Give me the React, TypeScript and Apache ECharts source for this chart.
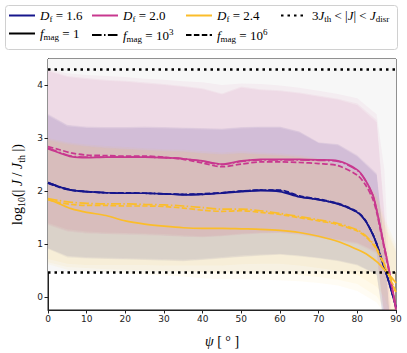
import React, { useEffect, useRef } from 'react';
import * as echarts from 'echarts';

// ---- data ----
const PSI = [0, 3, 6, 10, 15, 20, 25, 30, 35, 40, 45, 50, 55, 60, 65, 70, 75, 80, 82, 84, 85, 86, 87, 88, 89, 90];

const NAVY_F1 = [2.16, 2.08, 2.02, 1.99, 1.97, 1.96, 1.96, 1.95, 1.93, 1.94, 1.96, 1.99, 2.01, 1.99, 1.89, 1.84, 1.76, 1.6, 1.45, 1.18, 1.0, 0.77, 0.55, 0.32, 0.07, -0.2];
const NAVY_F3 = [2.16, 2.08, 2.02, 1.99, 1.97, 1.96, 1.96, 1.95, 1.94, 1.94, 1.97, 2.0, 2.02, 2.01, 1.9, 1.84, 1.76, 1.6, 1.45, 1.19, 1.01, 0.78, 0.56, 0.33, 0.08, -0.19];
const NAVY_F6 = [2.15, 2.07, 2.02, 1.99, 1.97, 1.97, 1.96, 1.95, 1.94, 1.95, 1.97, 2.0, 2.02, 2.02, 1.91, 1.85, 1.77, 1.61, 1.46, 1.19, 1.01, 0.78, 0.56, 0.33, 0.08, -0.19];

const MAG_F1 = [2.8, 2.72, 2.65, 2.63, 2.64, 2.64, 2.64, 2.63, 2.61, 2.57, 2.51, 2.57, 2.6, 2.6, 2.6, 2.59, 2.57, 2.4, 2.22, 1.93, 1.65, 1.3, 0.95, 0.6, 0.2, -0.2];
const MAG_F3 = [2.81, 2.73, 2.66, 2.64, 2.64, 2.64, 2.64, 2.63, 2.61, 2.56, 2.5, 2.56, 2.59, 2.59, 2.59, 2.58, 2.56, 2.39, 2.21, 1.92, 1.64, 1.29, 0.94, 0.59, 0.19, -0.21];
const MAG_F6 = [2.84, 2.78, 2.72, 2.68, 2.67, 2.66, 2.66, 2.64, 2.6, 2.53, 2.46, 2.51, 2.55, 2.55, 2.54, 2.52, 2.48, 2.3, 2.13, 1.85, 1.6, 1.25, 0.9, 0.55, 0.15, -0.25];

const GOLD_F1 = [1.85, 1.76, 1.67, 1.6, 1.54, 1.44, 1.38, 1.34, 1.31, 1.3, 1.3, 1.29, 1.28, 1.26, 1.22, 1.15, 1.05, 0.9, 0.83, 0.73, 0.67, 0.6, 0.52, 0.44, 0.36, 0.27];
const GOLD_F3 = [1.86, 1.82, 1.79, 1.77, 1.76, 1.76, 1.75, 1.74, 1.72, 1.69, 1.66, 1.66, 1.63, 1.58, 1.52, 1.46, 1.39, 1.27, 1.17, 1.02, 0.92, 0.78, 0.62, 0.45, 0.28, 0.1];
const GOLD_F6 = [1.84, 1.78, 1.75, 1.73, 1.73, 1.72, 1.72, 1.71, 1.68, 1.64, 1.62, 1.63, 1.6, 1.56, 1.5, 1.44, 1.37, 1.25, 1.15, 1.0, 0.9, 0.75, 0.6, 0.43, 0.26, 0.08];

const BAND_PSI = [0, 5, 10, 15, 20, 25, 30, 35, 40, 45, 50, 55, 60, 65, 70, 75, 80, 85, 87, 90];

const NAVY_HI_1 = [3.46, 3.25, 3.22, 3.21, 3.21, 3.22, 3.21, 3.2, 3.19, 3.18, 3.21, 3.22, 3.22, 3.13, 2.92, 2.89, 2.68, 2.34, 1.0, -2.0];
const NAVY_LO_1 = [0.91, 0.75, 0.73, 0.72, 0.71, 0.7, 0.69, 0.68, 0.7, 0.73, 0.76, 0.78, 0.8, 0.77, 0.73, 0.68, 0.6, 0.42, -0.6, -2.0];
const NAVY_HI_2 = [3.42, 3.22, 3.19, 3.18, 3.18, 3.19, 3.18, 3.17, 3.16, 3.15, 3.18, 3.19, 3.19, 3.1, 2.9, 2.86, 2.65, 2.3, 0.9, -2.0];
const NAVY_LO_2 = [0.93, 0.78, 0.76, 0.75, 0.74, 0.73, 0.72, 0.71, 0.73, 0.76, 0.79, 0.81, 0.82, 0.79, 0.75, 0.7, 0.62, 0.44, -0.5, -2.0];
const NAVY_HI_3 = [3.44, 3.24, 3.2, 3.2, 3.2, 3.2, 3.2, 3.19, 3.18, 3.17, 3.2, 3.21, 3.21, 3.12, 2.91, 2.88, 2.66, 2.32, 0.95, -2.0];
const NAVY_LO_3 = [0.92, 0.77, 0.74, 0.73, 0.72, 0.71, 0.7, 0.69, 0.71, 0.74, 0.77, 0.79, 0.81, 0.78, 0.74, 0.69, 0.61, 0.43, -0.55, -2.0];

const MAG_HI_1 = [4.28, 4.17, 4.13, 4.1, 4.08, 4.05, 4.02, 3.98, 3.94, 3.84, 3.97, 3.92, 3.9, 3.86, 3.8, 3.74, 3.65, 3.34, 1.6, -2.0];
const MAG_LO_1 = [1.38, 1.26, 1.22, 1.2, 1.2, 1.19, 1.17, 1.15, 1.14, 1.16, 1.19, 1.21, 1.22, 1.19, 1.13, 1.08, 1.02, 0.85, -0.4, -2.0];
const MAG_HI_2 = [4.3, 4.22, 4.19, 4.17, 4.15, 4.12, 4.1, 4.07, 4.05, 4.0, 4.03, 4.02, 3.99, 3.95, 3.89, 3.83, 3.75, 3.45, 2.4, -2.0];
const MAG_LO_2 = [1.36, 1.24, 1.2, 1.19, 1.18, 1.17, 1.16, 1.14, 1.13, 1.15, 1.18, 1.2, 1.21, 1.18, 1.12, 1.06, 1.0, 0.82, -0.3, -2.0];
const MAG_HI_3 = [4.26, 4.15, 4.11, 4.08, 4.06, 4.03, 4.0, 3.96, 3.92, 3.82, 3.95, 3.9, 3.88, 3.84, 3.78, 3.72, 3.62, 3.3, 1.5, -2.0];
const MAG_LO_3 = [1.4, 1.28, 1.24, 1.22, 1.21, 1.2, 1.19, 1.17, 1.15, 1.17, 1.2, 1.22, 1.23, 1.2, 1.14, 1.09, 1.03, 0.86, -0.4, -2.0];

const GOLD_HI_1 = [2.98, 2.9, 2.85, 2.82, 2.8, 2.78, 2.76, 2.75, 2.72, 2.7, 2.72, 2.7, 2.68, 2.65, 2.6, 2.5, 2.35, 1.9, 1.4, 0.9];
const GOLD_LO_1 = [0.72, 0.63, 0.61, 0.61, 0.61, 0.61, 0.6, 0.6, 0.6, 0.6, 0.62, 0.63, 0.63, 0.6, 0.55, 0.5, 0.42, 0.2, 0.0, -0.6];
const GOLD_HI_2 = [3.0, 2.92, 2.88, 2.85, 2.83, 2.81, 2.79, 2.78, 2.75, 2.73, 2.75, 2.73, 2.71, 2.68, 2.62, 2.52, 2.38, 1.95, 1.5, 1.0];
const GOLD_LO_2 = [0.62, 0.52, 0.49, 0.47, 0.45, 0.43, 0.41, 0.39, 0.36, 0.34, 0.34, 0.33, 0.32, 0.3, 0.27, 0.22, 0.12, -0.1, -0.3, -0.8];
const GOLD_HI_3 = [2.96, 2.88, 2.84, 2.81, 2.79, 2.77, 2.75, 2.74, 2.71, 2.69, 2.71, 2.69, 2.67, 2.64, 2.58, 2.48, 2.33, 1.88, 1.35, 0.85];
const GOLD_LO_3 = [0.66, 0.57, 0.55, 0.53, 0.52, 0.51, 0.5, 0.49, 0.47, 0.45, 0.45, 0.45, 0.44, 0.42, 0.38, 0.33, 0.25, 0.02, -0.2, -0.7];

const THRESHOLDS = [0.477, 4.29]; // log10(3), log10(J_disr / J_th)
const Y_TICKS = [0, 1, 2, 3, 4];
const DF_LABELS = ['1.6', '2.0', '2.4'];
const FMAG_LABELS = ['1', '10^3', '10^6'];

// ---- styles ----
const COLORS = ['#16168c', '#c8388f', '#fbbd2a'];
const BAND_OPACITY = 0.05;
const SERIF = 'Liberation Serif';
const SANS = 'DejaVu Sans';
const DASHED = [5.5, 2.4];
const DASHDOT = [9.6, 2.4, 1.5, 2.4];
const DOTTED = [2.5, 4];
const LINE_TYPES: any[] = ['solid', DASHDOT, DASHED];

const makeRich = (fs: number, sfs: number, lh: number) => ({
  n: { fontFamily: SERIF, fontSize: fs, lineHeight: lh, verticalAlign: 'middle', color: '#000' },
  it: { fontFamily: SERIF, fontStyle: 'italic', fontSize: fs, lineHeight: lh, verticalAlign: 'middle', color: '#000' },
  sub: { fontFamily: SERIF, fontSize: sfs, lineHeight: sfs, verticalAlign: 'bottom', color: '#000' },
  sup: { fontFamily: SERIF, fontSize: sfs, lineHeight: sfs, verticalAlign: 'top', color: '#000' },
});
const rich = makeRich(13, 9, 16);
const richAxis = makeRich(14, 10, 18);

function fmagLabel(v: string) {
  const parts = v.split('^');
  return '{it|f}{sub|mag}{n| = ' + parts[0] + '}' + (parts[1] ? '{sup|' + parts[1] + '}' : '');
}

export default function App() {
  const ref = useRef<HTMLDivElement>(null);
  useEffect(() => {
    if (!ref.current) return;
    const chart = echarts.init(ref.current, null, { renderer: 'svg' });

    const lineSets = [
      [NAVY_F1, NAVY_F3, NAVY_F6],
      [MAG_F1, MAG_F3, MAG_F6],
      [GOLD_F1, GOLD_F3, GOLD_F6],
    ];
    const bandSets = [
      [[NAVY_LO_1, NAVY_HI_1], [NAVY_LO_2, NAVY_HI_2], [NAVY_LO_3, NAVY_HI_3]],
      [[MAG_LO_1, MAG_HI_1], [MAG_LO_2, MAG_HI_2], [MAG_LO_3, MAG_HI_3]],
      [[GOLD_LO_1, GOLD_HI_1], [GOLD_LO_2, GOLD_HI_2], [GOLD_LO_3, GOLD_HI_3]],
    ];
    const dfNames = DF_LABELS.map((d) => 'D_f = ' + d);
    const fNames = FMAG_LABELS.map((f) => 'f_mag = ' + f);
    const labelMap: Record<string, string> = {};
    DF_LABELS.forEach((d, i) => { labelMap[dfNames[i]] = '{it|D}{sub|f}{n| = ' + d + '}'; });
    FMAG_LABELS.forEach((f, i) => { labelMap[fNames[i]] = fmagLabel(f); });
    labelMap['thr'] = '{n|3}{it|J}{sub|th}{n| < |}{it|J}{n|| < }{it|J}{sub|disr}';

    const series: any[] = [];
    series.push({
      type: 'line', name: 'bg', data: [], z: 0, silent: true,
      markArea: { silent: true, itemStyle: { color: '#f7f7f7', opacity: 1 }, data: [[{ yAxis: THRESHOLDS[0] }, { yAxis: 4.49 }]] },
    });
    bandSets.forEach((set, ci) => {
      set.forEach(([lo, hi]) => {
        series.push({
          type: 'custom', coordinateSystem: 'cartesian2d', silent: true, z: 2, clip: true,
          data: BAND_PSI.map((x, i) => [x, lo[i], hi[i]]),
          encode: { x: 0, y: [1, 2] },
          renderItem: (params: any, api: any) => {
            if (params.dataIndex !== 0) return null;
            const pts: number[][] = [];
            for (let i = 0; i < BAND_PSI.length; i++) pts.push(api.coord([BAND_PSI[i], hi[i]]));
            for (let i = BAND_PSI.length - 1; i >= 0; i--) pts.push(api.coord([BAND_PSI[i], lo[i]]));
            const cs = params.coordSys;
            return {
              type: 'polygon',
              shape: { points: pts },
              style: { fill: COLORS[ci], opacity: BAND_OPACITY },
              clipPath: { type: 'rect', shape: { x: cs.x, y: cs.y, width: cs.width, height: cs.height } },
            };
          },
        });
      });
    });
    lineSets.forEach((set, ci) => {
      set.forEach((vals, fi) => {
        series.push({
          type: 'line', name: fi === 0 ? dfNames[ci] : 'l' + ci + fi,
          data: PSI.map((x, i) => [x, vals[i]]),
          showSymbol: false, symbol: 'none', smooth: 0.3, z: 3, silent: true,
          itemStyle: { color: COLORS[ci] },
          lineStyle: { color: COLORS[ci], width: 1.7, type: fi === 0 ? 'solid' : LINE_TYPES[fi] },
        });
      });
    });
    series.push({
      type: 'line', name: 'thr', data: [], symbol: 'none', z: 5, silent: true,
      itemStyle: { color: '#000' },
      lineStyle: { color: '#000', width: 2.5, type: DOTTED },
      markLine: {
        silent: true, symbol: 'none', label: { show: false },
        lineStyle: { color: '#000', width: 2.5, type: DOTTED },
        data: THRESHOLDS.map((t) => ({ yAxis: t })),
      },
    });
    fNames.forEach((n, fi) => {
      series.push({
        type: 'line', name: n, data: [], symbol: 'none',
        itemStyle: { color: '#000' },
        lineStyle: { color: '#000', width: 1.8, type: LINE_TYPES[fi] },
      });
    });

    const legendPos: [string, number, number][] = [
      [dfNames[0], 8, 9], [dfNames[1], 91, 9], [dfNames[2], 185, 9], ['thr', 280, 9],
      [fNames[0], 8, 27], [fNames[1], 91, 27], [fNames[2], 185, 27],
    ];
    const legends = legendPos.map(([name, left, top]) => ({
      data: [name], left, top, padding: 0, itemWidth: 26, itemHeight: 14, itemGap: 0, selectedMode: false,
      itemStyle: { opacity: 0 },
      formatter: (n: string) => labelMap[n],
      textStyle: { rich, fontFamily: SERIF, fontSize: 13, color: '#000' },
    }));

    chart.setOption({
      animation: false,
      backgroundColor: '#fff',
      legend: legends,
      graphic: [{
        type: 'rect', left: 5, top: 5, z: -1,
        shape: { width: 392, height: 44, r: 3 },
        style: { fill: '#fff', stroke: '#d0d0d0', lineWidth: 1 },
      }],
      grid: { left: 48, right: 11, top: 59, bottom: 35, show: true, borderColor: '#222', borderWidth: 1 },
      xAxis: {
        type: 'value', min: 0, max: 90, interval: 10,
        axisLine: { show: true, onZero: false, lineStyle: { color: '#222', width: 1 } },
        axisTick: { show: true, length: 3.5, lineStyle: { color: '#222' } },
        axisLabel: { fontSize: 9, color: '#222', fontFamily: SANS, margin: 4 },
        splitLine: { show: false },
        name: '{it|ψ}{n| [ ° ]}', nameLocation: 'middle', nameGap: 22,
        nameTextStyle: { rich: richAxis, fontFamily: SERIF, fontSize: 14 },
      },
      yAxis: {
        type: 'value', min: -0.24, max: 4.49,
        axisLine: { show: true, onZero: false, lineStyle: { color: '#222', width: 1 } },
        axisTick: { show: true, length: 3.5, lineStyle: { color: '#222' }, customValues: Y_TICKS },
        axisLabel: { fontSize: 9, color: '#222', fontFamily: SANS, margin: 5, customValues: Y_TICKS },
        splitLine: { show: false },
        name: '{n|log}{sub|10}{n|(| }{it|J}{n| / }{it|J}{sub|th}{n| |)}', nameLocation: 'middle', nameGap: 14,
        nameTextStyle: { rich: richAxis, fontFamily: SERIF, fontSize: 14 },
      },
      series,
    });
    return () => chart.dispose();
  }, []);
  return <div ref={ref} style={{ position: 'absolute', left: 0, top: 0, width: 407, height: 353, background: '#fff' }} />;
}
